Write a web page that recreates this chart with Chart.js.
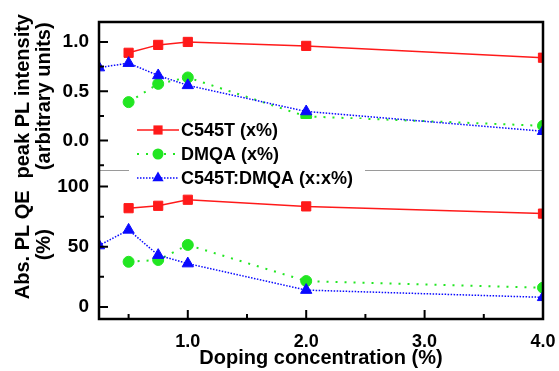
<!DOCTYPE html>
<html>
<head>
<meta charset="utf-8">
<script src="https://cdn.jsdelivr.net/npm/chart.js@4/dist/chart.umd.min.js"></script>
<style>
  html, body { margin: 0; padding: 0; background: #fff; }
</style>
</head>
<body>
<canvas id="plChart" width="559" height="371"></canvas>
<script>
// doping concentration (%)
const conc = [0.25, 0.5, 0.75, 1.0, 2.0, 4.0];

// peak PL intensity (arb. units)
const plC545T = [null, 0.89, 0.97, 1.00, 0.96, 0.84];
const plDMQA  = [null, 0.39, 0.575, 0.64, 0.245, 0.15];
const plMix   = [0.74, 0.785, 0.66, 0.56, 0.295, 0.095];

// abs. PL QE (%)
const qeC545T = [null, 82, 84, 89, 83.5, 77.5];
const qeDMQA  = [null, 37.5, 39, 51.5, 21.5, 16];
const qeMix   = [51, 64, 43, 36, 14, 8];

// ticks
const xTicks  = [1, 2, 3, 4];
const xMinor  = [0.5, 1.5, 2.5, 3.5];
const plTicks = [0, 0.5, 1.0];
const plMinor = [-0.25, 0.25, 0.75];
const qeTicks = [0, 50, 100];
const qeMinor = [25, 75];

const seriesNames = ['C545T (x%)', 'DMQA (x%)', 'C545T:DMQA (x:x%)'];

const RED = '#ff1a1a', GREEN = '#22e622', BLUE = '#0a0aff';
const FONT = 'Arial, "Liberation Sans", sans-serif';

function pts(ys) {
    return conc.map((x, i) => ({x: x, y: ys[i]})).filter(p => p.y !== null);
}

const styles = [
    {color: RED, pointStyle: 'rect', pointRadius: 6.5, borderWidth: 1.5, borderDash: []},
    {color: GREEN, pointStyle: 'circle', pointRadius: 5.5, borderWidth: 2, borderDash: [2, 7]},
    {color: BLUE, pointStyle: 'triangle', pointRadius: 6.5, borderWidth: 1.5, borderDash: [1.5, 1.5]}
];

function ds(name, ys, st, axis, order) {
    return {
        label: name,
        data: pts(ys),
        yAxisID: axis,
        borderColor: st.color,
        backgroundColor: st.color,
        pointBackgroundColor: st.color,
        pointBorderColor: st.color,
        pointBorderWidth: 1,
        pointStyle: st.pointStyle,
        pointRadius: st.pointRadius,
        borderWidth: st.borderWidth,
        borderDash: st.borderDash,
        tension: 0,
        clip: 0,
        order: order
    };
}

function drawMarker(ctx, style, x, y, r) {
    ctx.beginPath();
    if (style === 'rect') {
        const s = Math.SQRT1_2 * r;
        ctx.rect(x - s, y - s, 2 * s, 2 * s);
    } else if (style === 'circle') {
        ctx.arc(x, y, r, 0, Math.PI * 2);
    } else {
        const a = Math.PI * 2 / 3;
        ctx.moveTo(x, y - r);
        ctx.lineTo(x + Math.sin(a) * r, y - Math.cos(a) * r);
        ctx.lineTo(x + Math.sin(2 * a) * r, y - Math.cos(2 * a) * r);
        ctx.closePath();
    }
    ctx.fill();
}

const frame = {
    id: 'frame',
    beforeDatasetsDraw(chart) {
        const {ctx, chartArea: a, scales} = chart;
        const ySep = scales.yPL.bottom;
        ctx.save();
        ctx.strokeStyle = '#9a9a9a';
        ctx.lineWidth = 1;
        ctx.beginPath();
        ctx.moveTo(a.left, ySep);
        ctx.lineTo(a.right, ySep);
        ctx.stroke();
        ctx.restore();
    },
    afterDatasetsDraw(chart) {
        const {ctx, chartArea: a, scales} = chart;
        ctx.save();

        // legend
        ctx.fillStyle = '#fff';
        ctx.fillRect(129, 119, 236, 68);
        ctx.font = 'bold 18px ' + FONT;
        ctx.textBaseline = 'middle';
        styles.forEach((st, i) => {
            const y = 130 + i * 24;
            const lx = 137;
            ctx.strokeStyle = st.color;
            ctx.lineWidth = st.borderWidth;
            ctx.setLineDash(st.borderDash);
            ctx.beginPath();
            ctx.moveTo(lx, y);
            ctx.lineTo(lx + 42, y);
            ctx.stroke();
            ctx.setLineDash([]);
            ctx.fillStyle = st.color;
            drawMarker(ctx, st.pointStyle, lx + 21, y, st.pointRadius);
            ctx.fillStyle = '#000';
            ctx.fillText(seriesNames[i], lx + 44, y + 1);
        });

        // inward ticks
        ctx.strokeStyle = '#000';
        ctx.lineWidth = 2;
        ctx.beginPath();
        const xt = (vals, len) => vals.forEach(v => {
            const px = scales.x.getPixelForValue(v);
            ctx.moveTo(px, a.bottom);
            ctx.lineTo(px, a.bottom - len);
        });
        const yt = (sc, vals, len) => vals.forEach(v => {
            const py = sc.getPixelForValue(v);
            ctx.moveTo(a.left, py);
            ctx.lineTo(a.left + len, py);
        });
        xt(xTicks, 9); xt(xMinor, 5);
        yt(scales.yPL, plTicks, 9); yt(scales.yPL, plMinor, 5);
        yt(scales.yQE, qeTicks, 9); yt(scales.yQE, qeMinor, 5);
        ctx.stroke();

        // frame
        ctx.lineWidth = 2.5;
        ctx.strokeRect(a.left, a.top, a.right - a.left, a.bottom - a.top);
        ctx.restore();
    }
};

function yAxis(min, max, tickVals, fmt, title) {
    return {
        type: 'linear',
        position: 'left',
        stack: 'panels',
        stackWeight: 1,
        min: min,
        max: max,
        grid: {display: false, drawTicks: false},
        border: {display: false},
        afterBuildTicks: s => { s.ticks = tickVals.map(v => ({value: v})); },
        afterFit: s => { s.width = 99; },
        ticks: {
            callback: fmt,
            color: '#000',
            padding: 10,
            font: {family: FONT, size: 19, weight: 'bold'}
        },
        title: {
            display: true,
            text: title,
            color: '#000',
            font: {family: FONT, size: 20, weight: 'bold', lineHeight: 1.05},
            padding: {top: 13, bottom: 0}
        }
    };
}

const config = {
    type: 'line',
    data: {
        datasets: [
            ds(seriesNames[0], plC545T, styles[0], 'yPL', 3),
            ds(seriesNames[1], plDMQA, styles[1], 'yPL', 2),
            ds(seriesNames[2], plMix, styles[2], 'yPL', 1),
            ds(seriesNames[0], qeC545T, styles[0], 'yQE', 3),
            ds(seriesNames[1], qeDMQA, styles[1], 'yQE', 2),
            ds(seriesNames[2], qeMix, styles[2], 'yQE', 1)
        ]
    },
    options: {
        responsive: false,
        animation: false,
        layout: {padding: {top: 22, right: 16, left: 0, bottom: 0}},
        scales: {
            x: {
                type: 'linear',
                min: 0.25,
                max: 4.0,
                grid: {display: false, drawTicks: false},
                border: {display: false},
                afterBuildTicks: s => { s.ticks = xTicks.map(v => ({value: v})); },
                afterFit: s => { s.height = 52; s.paddingRight = 0; s.paddingLeft = 0; },
                ticks: {
                    callback: v => Number(v).toFixed(1),
                    color: '#000',
                    padding: 12,
                    maxRotation: 0,
                    autoSkip: false,
                    font: {family: FONT, size: 18, weight: 'bold'}
                },
                title: {
                    display: true,
                    text: 'Doping concentration (%)',
                    color: '#000',
                    font: {family: FONT, size: 20, weight: 'bold'},
                    padding: {top: 0, bottom: 1}
                }
            },
            // the stack is laid out bottom-up, so the lower panel comes first
            yQE: yAxis(-10, 113.3, qeTicks, v => String(v),
                ['Abs. PL QE', '(%)']),
            yPL: yAxis(-0.303, 1.202, plTicks, v => Number(v).toFixed(1),
                ['peak PL intensity', '(arbitrary units)'])
        },
        plugins: {
            legend: {display: false},
            tooltip: {enabled: false}
        }
    },
    plugins: [frame]
};

const plChart = new Chart(document.getElementById('plChart'), config);
</script>
</body>
</html>
